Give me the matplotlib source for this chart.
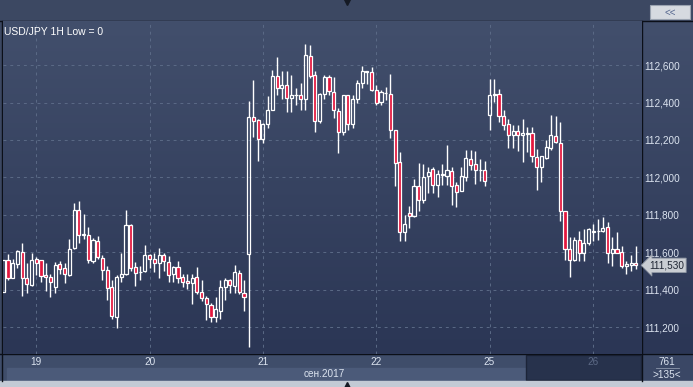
import numpy as np
import matplotlib
matplotlib.use('Agg')
import matplotlib.pyplot as plt
from matplotlib.patches import Rectangle
from matplotlib.colors import LinearSegmentedColormap
from matplotlib.ticker import FuncFormatter

plt.rcParams['font.family'] = ['Liberation Sans', 'DejaVu Sans']

# USD/JPY 1H, 135 свечей
opens = [111.388, 111.558, 111.462, 111.537, 111.601, 111.462, 111.424, 111.564, 111.558, 111.477,
         111.467, 111.413, 111.537, 111.515, 111.477, 111.620, 111.826, 111.692, 111.692, 111.553,
         111.660, 111.569, 111.505, 111.413, 111.253, 111.470, 111.483, 111.746, 111.520, 111.496,
         111.497, 111.587, 111.563, 111.545, 111.587, 111.549, 111.483, 111.522, 111.469, 111.447,
         111.437, 111.469, 111.385, 111.354, 111.317, 111.253, 111.288, 111.413, 111.451, 111.419,
         111.488, 111.381, 111.590, 112.323, 112.305, 112.207, 112.287, 112.362, 112.541, 112.480,
         112.493, 112.427, 112.443, 112.443, 112.421, 112.648, 112.546, 112.300, 112.444, 112.537,
         112.457, 112.355, 112.242, 112.443, 112.287, 112.421, 112.502, 112.569, 112.564, 112.466,
         112.403, 112.451, 112.448, 112.255, 112.081, 111.706, 111.810, 111.792, 111.953, 111.880,
         112.006, 112.046, 111.960, 112.014, 112.006, 112.032, 111.957, 111.928, 112.003, 112.100,
         112.073, 112.041, 112.037, 112.336, 112.443, 112.448, 112.330, 112.287, 112.225, 112.246,
         112.225, 112.232, 112.239, 112.108, 112.055, 112.105, 112.159, 112.219, 112.186, 111.823,
         111.617, 111.558, 111.665, 111.596, 111.652, 111.709, 111.713, 111.711, 111.737, 111.594,
         111.617, 111.600, 111.524, 111.533, 111.542]
highs = [111.560, 111.593, 111.565, 111.610, 111.651, 111.542, 111.596, 111.575, 111.560, 111.542,
         111.483, 111.549, 111.553, 111.542, 111.671, 111.865, 111.874, 111.805, 111.735, 111.676,
         111.687, 111.585, 111.526, 111.451, 111.478, 111.596, 111.826, 111.751, 111.549, 111.528,
         111.640, 111.593, 111.598, 111.624, 111.598, 111.578, 111.528, 111.554, 111.483, 111.483,
         111.483, 111.522, 111.451, 111.367, 111.327, 111.360, 111.451, 111.462, 111.456, 111.531,
         111.504, 111.451, 112.409, 112.523, 112.314, 112.291, 112.434, 112.573, 112.645, 112.568,
         112.568, 112.546, 112.480, 112.505, 112.713, 112.707, 112.569, 112.451, 112.550, 112.546,
         112.534, 112.373, 112.443, 112.443, 112.443, 112.520, 112.595, 112.569, 112.588, 112.493,
         112.466, 112.484, 112.552, 112.255, 112.135, 111.801, 111.846, 111.992, 112.078, 112.073,
         112.055, 112.055, 112.041, 112.073, 112.171, 112.058, 111.974, 112.058, 112.148, 112.148,
         112.141, 112.100, 112.085, 112.525, 112.525, 112.475, 112.359, 112.314, 112.278, 112.278,
         112.314, 112.269, 112.269, 112.153, 112.117, 112.202, 112.332, 112.327, 112.296, 111.823,
         111.679, 111.679, 111.715, 111.724, 111.730, 111.751, 111.778, 111.790, 111.760, 111.679,
         111.710, 111.631, 111.551, 111.587, 111.631]
lows = [111.385, 111.451, 111.460, 111.517, 111.367, 111.381, 111.420, 111.476, 111.440, 111.392,
        111.363, 111.381, 111.483, 111.435, 111.472, 111.617, 111.652, 111.671, 111.542, 111.542,
        111.564, 111.451, 111.344, 111.242, 111.194, 111.440, 111.480, 111.500, 111.417, 111.451,
        111.492, 111.515, 111.492, 111.460, 111.500, 111.443, 111.443, 111.435, 111.415, 111.403,
        111.325, 111.376, 111.340, 111.236, 111.226, 111.226, 111.242, 111.344, 111.381, 111.381,
        111.378, 111.288, 111.093, 112.216, 112.087, 112.183, 112.266, 112.359, 112.443, 112.421,
        112.350, 112.350, 112.385, 112.359, 112.359, 112.532, 112.242, 112.291, 112.421, 112.439,
        112.320, 112.130, 112.225, 112.251, 112.264, 112.398, 112.478, 112.498, 112.461, 112.385,
        112.385, 112.412, 112.212, 111.953, 111.662, 111.662, 111.730, 111.787, 111.823, 111.862,
        111.915, 111.915, 111.894, 111.962, 111.962, 111.855, 111.840, 111.926, 111.983, 112.042,
        111.966, 111.980, 111.953, 112.251, 112.403, 112.296, 112.251, 112.157, 112.159, 112.141,
        112.081, 112.135, 112.081, 111.930, 111.974, 112.100, 112.148, 112.183, 111.765, 111.558,
        111.465, 111.551, 111.551, 111.551, 111.640, 111.662, 111.665, 111.709, 111.545, 111.524,
        111.594, 111.518, 111.486, 111.501, 111.510]
closes = [111.558, 111.462, 111.542, 111.606, 111.462, 111.429, 111.558, 111.542, 111.472, 111.467,
          111.440, 111.531, 111.510, 111.483, 111.617, 111.826, 111.692, 111.697, 111.558, 111.665,
          111.574, 111.505, 111.408, 111.258, 111.467, 111.483, 111.746, 111.518, 111.488, 111.494,
          111.587, 111.563, 111.545, 111.587, 111.553, 111.477, 111.522, 111.462, 111.440, 111.437,
          111.462, 111.387, 111.354, 111.322, 111.253, 111.295, 111.413, 111.451, 111.424, 111.494,
          111.387, 111.360, 112.323, 112.300, 112.207, 112.287, 112.362, 112.541, 112.480, 112.493,
          112.427, 112.443, 112.440, 112.421, 112.654, 112.543, 112.300, 112.444, 112.534, 112.461,
          112.362, 112.242, 112.443, 112.287, 112.421, 112.507, 112.569, 112.566, 112.466, 112.400,
          112.457, 112.452, 112.251, 112.078, 111.706, 111.751, 111.792, 111.953, 111.880, 112.001,
          112.028, 111.960, 112.019, 112.018, 112.037, 111.953, 111.921, 112.010, 112.105, 112.068,
          112.041, 112.038, 111.982, 112.443, 112.445, 112.330, 112.282, 112.225, 112.246, 112.225,
          112.235, 112.239, 112.117, 112.055, 112.112, 112.162, 112.225, 112.189, 111.819, 111.617,
          111.558, 111.665, 111.596, 111.647, 111.724, 111.711, 111.716, 111.730, 111.594, 111.617,
          111.594, 111.524, 111.537, 111.545, 111.530]

# первая свеча каждого дня (индекс) и подписи дней
day_start = [7, 31, 55, 79, 103, 125]
day_labels = ['19', '20', '21', '22', '25', '26']
price_ticks = [111.2, 111.4, 111.6, 111.8, 112.0, 112.2, 112.4, 112.6]

W, H = 693, 387
RED = '#e3163d'
TXT = '#dce4f0'
FS = 7.2


def rect(x0, y0, x1, y1):
    # пиксели (сверху вниз) -> доли фигуры
    return [x0 / W, 1 - y1 / H, (x1 - x0) / W, (y1 - y0) / H]


def price_fmt(v):
    return f'{v:.3f}'.replace('.', ',')


fig = plt.figure(figsize=(W / 100, H / 100), dpi=100)
fig.patch.set_facecolor('#3c4862')

grad = LinearSegmentedColormap.from_list('bg', ['#424f6c', '#2b3655'])
g = np.linspace(0, 1, 256).reshape(-1, 1)

# фон / рамка в пикселях
frame = fig.add_axes([0, 0, 1, 1])
frame.set_zorder(-1)
frame.set_xlim(0, W)
frame.set_ylim(H, 0)
frame.axis('off')
frame.imshow(g, cmap=grad, aspect='auto', extent=(642, W, 354, 21))
frame.add_patch(Rectangle((0, 354), W, 27, color='#3f4d6a'))
frame.add_patch(Rectangle((7, 368), 519, 13, color='#4b5a79'))
frame.add_patch(Rectangle((526, 355), 115, 25, fc='#27324c', ec='#1c2438', lw=1))
frame.add_patch(Rectangle((642, 354), 51, 27, color='#3a4765'))
frame.add_patch(Rectangle((0, 381), W, 6, color='#c3cad5'))
frame.add_patch(Rectangle((650, 5), 40, 14, fc='#d6dae0', ec='#9aa3b0', lw=0.8))
frame.text(670, 12.5, '<<', ha='center', va='center', fontsize=7, color='#55668f')
frame.plot([347], [1.5], marker='v', ms=4, color='#151a24', clip_on=False)
frame.plot([347], [385], marker='^', ms=4, color='#151a24', clip_on=False)
frame.text(324, 374, 'сен.2017', ha='center', va='center', fontsize=FS, color=TXT)
frame.text(667, 362, '761', ha='center', va='center', fontsize=FS, color=TXT)
frame.plot([656, 679], [368, 368], color='#8c97ab', lw=0.6)
frame.text(667, 374.5, '>135<', ha='center', va='center', fontsize=FS, color=TXT)
frame.plot([0, W], [21, 21], color='#0b0f18', lw=1)
frame.plot([0, W], [354, 354], color='#0b0f18', lw=1)
frame.plot([642, 642], [21, 381], color='#0b0f18', lw=1)
frame.plot([2, 2], [21, 381], color='#0b0f18', lw=1)

# график
ax = fig.add_axes(rect(3, 21, 642, 354))
x = np.arange(len(opens))
o = np.array(opens)
c = np.array(closes)
hi = np.array(highs)
lo = np.array(lows)
top = np.maximum(o, c)
bot = np.minimum(o, c)
bear = c < o

ax.set_xlim(-0.06, 135.3)
ax.set_ylim(111.056, 112.836)
ax.imshow(g, cmap=grad, aspect='auto', extent=(-0.06, 135.3, 111.056, 112.836), zorder=0)

ax.vlines(x, top, hi, color='white', lw=1, zorder=3)
ax.vlines(x, lo, bot, color='white', lw=1, zorder=3)
ax.bar(x, top - bot, bottom=bot, width=0.66,
       color=np.where(bear, RED, 'none'), edgecolor='white', linewidth=0.9, zorder=4)

ax.set_yticks(price_ticks)
ax.yaxis.tick_right()
ax.yaxis.set_major_formatter(FuncFormatter(lambda v, p: price_fmt(v)))
ax.set_xticks(day_start)
ax.set_xticklabels(day_labels)
ax.tick_params(axis='y', length=0, pad=1.5, labelsize=FS, labelcolor=TXT)
ax.tick_params(axis='x', length=0, pad=2.5, labelsize=FS, labelcolor=TXT)
ax.get_xticklabels()[-1].set_color('#5c6985')
ax.grid(True, color='#5b6a86', lw=0.7, linestyle=(0, (3, 4)), zorder=1)
for s in ax.spines.values():
    s.set_visible(False)

ax.text(0.002, 0.982, 'USD/JPY 1H Low = 0', transform=ax.transAxes, ha='left', va='top',
        fontsize=7.5, color='white', zorder=6)

ax.annotate(price_fmt(closes[-1]), xy=(1, closes[-1]),
            xycoords=('axes fraction', 'data'), xytext=(5, 0), textcoords='offset points',
            ha='left', va='center', fontsize=FS, color='#1e2533', annotation_clip=False,
            bbox=dict(boxstyle='larrow,pad=0.22', fc='#c9cdd3', ec='#8f97a4', lw=0.6))

fig.savefig('out.png', dpi=100, facecolor=fig.get_facecolor())
